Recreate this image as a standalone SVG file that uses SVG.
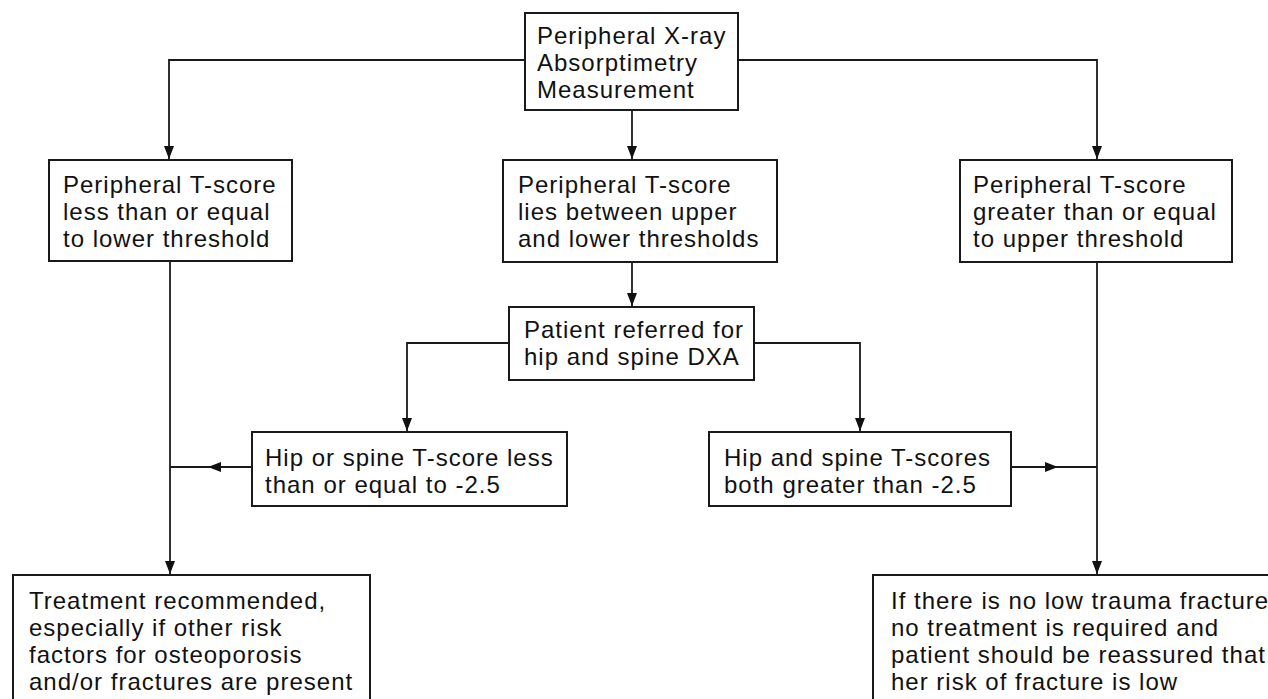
<svg xmlns="http://www.w3.org/2000/svg" width="1268" height="699" viewBox="0 0 1268 699">
<style>
.box{fill:#fff;stroke:#1a1a1a;stroke-width:2}
.t{font-family:"Liberation Sans",Arial,sans-serif;font-size:24px;letter-spacing:1px;fill:#111}
.c{fill:none;stroke:#1a1a1a;stroke-width:1.8}
</style>
<defs>
<marker id="ah" markerUnits="userSpaceOnUse" markerWidth="14" markerHeight="12" refX="13" refY="5" orient="auto">
<path d="M0,0 L13,5 L0,10 Z" fill="#111"/>
</marker>
</defs>
<rect width="1268" height="699" fill="#fff"/>
<g id="connectors">
<path class="c" d="M525,60 H169 V159" marker-end="url(#ah)"/>
<path class="c" d="M738,60 H1097 V159" marker-end="url(#ah)"/>
<path class="c" d="M632,110 V159" marker-end="url(#ah)"/>
<path class="c" d="M632,262 V306" marker-end="url(#ah)"/>
<path class="c" d="M509,343 H407 V431" marker-end="url(#ah)"/>
<path class="c" d="M754,343 H860 V431" marker-end="url(#ah)"/>
<path class="c" d="M170,261 V574" marker-end="url(#ah)"/>
<path class="c" d="M1097,262 V574" marker-end="url(#ah)"/>
<path class="c" d="M252,467 H208" marker-end="url(#ah)"/>
<path class="c" d="M210,467 H170"/>
<path class="c" d="M1011,467 H1058" marker-end="url(#ah)"/>
<path class="c" d="M1056,467 H1097"/>
</g>
<g id="top">
<rect class="box" x="525" y="13" width="213" height="97"/>
<text class="t" x="537" y="44">Peripheral X-ray</text>
<text class="t" x="537" y="71">Absorptimetry</text>
<text class="t" x="537" y="98">Measurement</text>
</g>
<g id="left">
<rect class="box" x="49" y="160" width="243" height="101"/>
<text class="t" x="63" y="193">Peripheral T-score</text>
<text class="t" x="63" y="220">less than or equal</text>
<text class="t" x="63" y="247">to lower threshold</text>
</g>
<g id="middle">
<rect class="box" x="503" y="160" width="274" height="102"/>
<text class="t" x="518" y="193">Peripheral T-score</text>
<text class="t" x="518" y="220">lies between upper</text>
<text class="t" x="518" y="247">and lower thresholds</text>
</g>
<g id="right">
<rect class="box" x="960" y="160" width="272" height="102"/>
<text class="t" x="973" y="193">Peripheral T-score</text>
<text class="t" x="973" y="220">greater than or equal</text>
<text class="t" x="973" y="247">to upper threshold</text>
</g>
<g id="dxa">
<rect class="box" x="509" y="307" width="245" height="73"/>
<text class="t" x="524" y="338">Patient referred for</text>
<text class="t" x="524" y="365">hip and spine DXA</text>
</g>
<g id="hipor">
<rect class="box" x="252" y="432" width="315" height="74"/>
<text class="t" x="265" y="466">Hip or spine T-score less</text>
<text class="t" x="265" y="493">than or equal to -2.5</text>
</g>
<g id="hipand">
<rect class="box" x="709" y="432" width="302" height="74"/>
<text class="t" x="724" y="466">Hip and spine T-scores</text>
<text class="t" x="724" y="493">both greater than -2.5</text>
</g>
<g id="treat">
<rect class="box" x="13" y="575" width="357" height="140"/>
<text class="t" x="29" y="609">Treatment recommended,</text>
<text class="t" x="29" y="636">especially if other risk</text>
<text class="t" x="29" y="663">factors for osteoporosis</text>
<text class="t" x="29" y="690">and/or fractures are present</text>
</g>
<g id="reassure">
<rect class="box" x="873" y="575" width="420" height="140"/>
<text class="t" x="891" y="609">If there is no low trauma fracture</text>
<text class="t" x="891" y="636">no treatment is required and</text>
<text class="t" x="891" y="663">patient should be reassured that</text>
<text class="t" x="891" y="690">her risk of fracture is low</text>
</g>
</svg>
